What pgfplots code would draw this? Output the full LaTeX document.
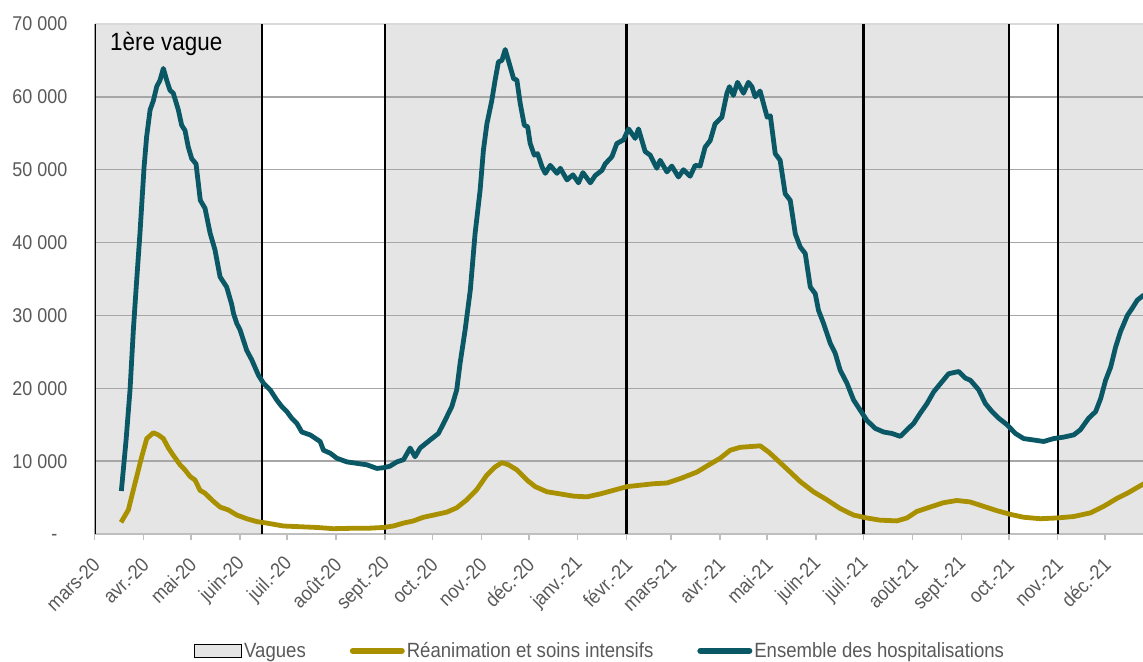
\documentclass[border=0pt]{standalone}
\usepackage{fontspec}
\setmainfont{Liberation Sans}[FakeStretch=0.9]
\usepackage{pgfplots}
\pgfplotsset{compat=1.18}

\definecolor{teal1}{HTML}{0A5865}
\definecolor{gold1}{HTML}{A99000}
\definecolor{wavegray}{HTML}{E5E5E5}
\definecolor{gridgray}{HTML}{A6A6A6}
\definecolor{topgray}{HTML}{D9D9D9}
\definecolor{axgray}{HTML}{BFBFBF}
\definecolor{txtgray}{HTML}{595959}

% days counted from 1 March 2020
\pgfplotstableread{
d v
17 5900
20 12900
22.5 19800
24.6 28000
26.7 34800
28.8 41300
31.4 50400
33 54500
35.2 58200
37.3 59500
39.4 61400
41.5 62300
43.6 63900
45.7 62300
47.8 60900
49.9 60500
53.1 58200
55.2 56100
57.3 55400
59.4 53100
61.6 51500
64.3 50800
67 45800
70 44700
73.2 41300
76.3 39000
79.5 35300
83.7 33900
86.9 31500
88 30300
90.1 28900
92.2 28000
96.4 25200
99.6 23900
103.8 21800
107 20700
111.2 19800
115.4 18400
118.6 17500
121.8 16800
124.9 15900
128.1 15200
131.3 14000
136.6 13600
142.9 12700
145 11500
149.2 11100
153.5 10400
159.8 9900
166.1 9700
172.5 9500
178.8 9000
183 9100
187 9300
191.5 9900
195.7 10200
199.9 11800
203 10600
206.2 11800
212.5 12900
217.8 13800
222 15600
226.3 17500
229.4 19800
231.5 23400
234.7 28000
238 33500
241 41200
244.2 47200
246.3 52700
248.5 56300
251.6 59500
253.7 62300
255.8 64800
258 65000
260.1 66500
263.3 64100
265.4 62500
267.5 62300
269.6 59100
272.2 56100
274.3 55900
275.9 53600
278.5 52000
280.6 52200
283.4 50400
285.5 49500
288.6 50600
292.9 49500
295 50200
299.2 48600
303 49300
306.5 48200
309.3 49600
314 48200
317.1 49200
321.3 49900
323.4 50800
327.7 51800
330.8 53600
335 54100
338.2 55600
342.4 54300
344.5 55600
348.7 52500
351.9 52000
356.1 50200
358.2 51300
362.5 49700
365.6 50500
369.8 49000
373 50000
377.2 49100
380.4 50600
383.5 50500
386.7 53100
389.9 54000
393 56300
397.3 57200
400.5 60500
402.1 61400
404.6 60200
407.2 62000
411 60500
414.1 62000
416.3 61400
418.4 60000
421.5 60800
426 57200
428 57400
431.1 52200
434.2 51300
437.4 46700
440.6 45800
443.8 41200
446.9 39400
450.1 38500
453.3 33900
456.4 33000
458.5 30700
461.7 28900
465.9 26200
469.1 24800
472.2 22500
476.5 20700
480.7 18400
484.9 17000
489.1 15600
494.4 14500
499.7 14000
505 13800
510.3 13400
514.5 14300
518.8 15200
523 16600
527.2 17900
531.4 19500
536.7 20900
540.9 22000
547.3 22300
551.5 21400
554.7 21100
559.9 19800
564.2 17900
568.4 16800
572.6 15900
577.9 15000
583.2 13800
588.4 13100
594.8 12900
601.1 12700
607.4 13100
613.8 13300
620.1 13600
624.3 14300
629.6 15900
634 16800
637.2 18600
640.3 21100
643.5 22900
646.7 25700
649.8 27800
654.1 30000
657.2 31000
660.4 32100
664.5 32800
}\hospit

\pgfplotstableread{
d v
16.8 1600
21.4 3300
25.7 7000
29.9 10600
33.1 13100
37.3 13900
40.4 13600
43.6 13100
46.8 11800
49.9 10800
54.2 9500
57.3 8800
60.5 7900
63.7 7400
66.8 6000
70 5600
74.2 4700
79.5 3700
84.8 3300
90.1 2600
96.4 2100
102.8 1700
109.1 1500
119.6 1100
130.2 1000
140.8 900
151.3 730
161.9 780
172.5 780
183 900
189.3 1100
195.7 1500
202 1800
208.3 2300
214.7 2600
223.1 3000
229.4 3600
235.8 4700
242.1 6100
248.5 8100
253.7 9200
258 9800
262.2 9500
267.5 8800
273.9 7400
279.1 6500
286.5 5800
295 5500
303.4 5200
311.8 5100
320.2 5500
328.7 6000
337.1 6500
345.6 6700
354 6900
362.5 7000
370.9 7600
381.5 8500
389.9 9600
396.2 10400
402.6 11500
408.9 11900
415.3 12000
421.6 12100
427.2 11200
432.2 10200
440.6 8500
446.9 7200
455.3 5800
463.8 4700
472.2 3500
480.7 2600
489.1 2200
497.5 1900
508.1 1800
514.5 2200
520.8 3100
529.2 3700
537.7 4300
546.1 4600
554.5 4400
563 3800
571.5 3200
579.9 2700
588.4 2300
598.9 2100
609.5 2200
620.1 2400
630.7 2900
639.1 3800
647.6 4900
654.1 5600
664.5 6900
}\rea

\begin{document}
\begin{tikzpicture}
\begin{axis}[
    set layers,
    width=1048.5bp, height=510bp, scale only axis,
    xmin=0, xmax=664, ymin=0, ymax=70000,
    axis x line*=bottom, axis y line*=left,
    x axis line style={axgray, line width=1.5bp},
    y axis line style={draw=none},
    xtick={0,31,61,92,122,153,184,214,245,275,306,337,365,396,426,457,487,518,549,579,610,640},
    xticklabels={mars-20,avr.-20,mai-20,juin-20,juil.-20,août-20,sept.-20,oct.-20,nov.-20,déc.-20,janv.-21,févr.-21,mars-21,avr.-21,mai-21,juin-21,juil.-21,août-21,sept.-21,oct.-21,nov.-21,déc.-21},
    xtick style={axgray, line width=1.5bp},
    xtick align=outside, major tick length=6bp,
    xticklabel style={xshift=2bp, yshift=-21bp, rotate=45, anchor=east, inner sep=0pt,
        font=\fontsize{20}{24}\selectfont, text=txtgray},
    scaled y ticks=false,
    ytick={10000,20000,...,60000},
    yticklabels={10 000,20 000,30 000,40 000,50 000,60 000},
    extra y ticks={0,70000},
    extra y tick labels={-\phantom{0},70 000},
    extra y tick style={major grid style={topgray, line width=1.5bp}},
    ytick style={draw=none},
    yticklabel style={anchor=east, inner sep=0pt, xshift=-27bp,
        font=\fontsize{20}{24}\selectfont, text=txtgray},
    ymajorgrids, major grid style={gridgray, line width=1.5bp},
    legend columns=3,
    legend style={draw=none, fill=none, at={(axis description cs:0.482,-0.229)}, anchor=center,
        font=\fontsize{20.7}{24}\selectfont, text=txtgray,
        /tikz/every odd column/.append style={column sep=0bp},
        /tikz/every even column/.append style={column sep=42bp}},
]
\coordinate (bl) at (rel axis cs:0,0);
\coordinate (tr) at (rel axis cs:1,1);

% waves
\addplot[fill=wavegray, draw=none, on layer=axis background,
    legend image code/.code={\draw[fill=wavegray, draw=black, line width=1.5bp] (0bp,-6.5bp) rectangle (47bp,6.5bp);}]
    coordinates {(0,70000) (106,70000)} \closedcycle;
\addplot[fill=wavegray, draw=none, on layer=axis background, forget plot]
    coordinates {(184,70000) (579,70000)} \closedcycle;
\addplot[fill=wavegray, draw=none, on layer=axis background, forget plot]
    coordinates {(610,70000) (664,70000)} \closedcycle;

\addplot[black, line width=3.6bp, forget plot] coordinates {(0,0) (0,70000)};
\addplot[black, line width=1.8bp, forget plot] coordinates {(106,0) (106,70000)};
\addplot[black, line width=1.8bp, forget plot] coordinates {(184,0) (184,70000)};
\addplot[black, line width=3.4bp, forget plot] coordinates {(337,0) (337,70000)};
\addplot[black, line width=3.4bp, forget plot] coordinates {(487,0) (487,70000)};
\addplot[black, line width=1.8bp, forget plot] coordinates {(579,0) (579,70000)};
\addplot[black, line width=1.8bp, forget plot] coordinates {(610,0) (610,70000)};

\addplot[gold1, line width=4.8bp, line join=round,
    legend image code/.code={\draw[gold1, line width=6bp, line cap=round] (0bp,0bp) -- (49bp,0bp);}]
    table[x=d, y=v] {\rea};
\addplot[teal1, line width=4.8bp, line join=round,
    legend image code/.code={\draw[teal1, line width=6bp, line cap=round] (0bp,0bp) -- (49bp,0bp);}]
    table[x=d, y=v] {\hospit};

\node[anchor=west, inner sep=0pt, font=\fontsize{25}{30}\selectfont] at (axis cs:9.8,67200) {1ère vague};

\legend{Vagues, Réanimation et soins intensifs, Ensemble des hospitalisations}
\end{axis}
\pgfresetboundingbox
\path[use as bounding box] ([shift={(-94.5bp,-127bp)}]bl) rectangle ([shift={(0bp,24bp)}]tr);
\end{tikzpicture}
\end{document}
